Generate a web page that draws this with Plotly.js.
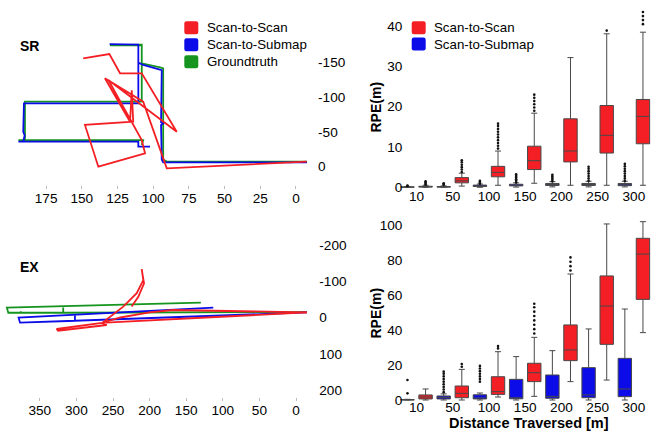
<!DOCTYPE html>
<html><head><meta charset="utf-8">
<script src="https://cdn.plot.ly/plotly-3.0.1.min.js"></script>
<style>html,body{margin:0;padding:0;background:#fff}</style>
</head><body><div id="chart" style="width:653px;height:432px"></div>
<script>
// ---------- trajectory data (SR) ----------
const srGroundX = [-7.7, 90.5, 93, 93, 95.2, 108, 108, 130.3, 108, 108, 189.8, 189.8, 194.4, 107, 108];
const srGroundY = [-7, -7, -10, -141.7, -143, -149, -175, -175, -176, -93.5, -93.5, -38, -38, -38, -31];
const srSubmapX = [-7.7, 93, 94, 94.5, 93, 94.5, 94, 107, 110.4, 110.4, 130.5, 110.4, 110.4, 190.5, 191, 190, 191, 194.4, 110.4, 110.4, 102.2];
const srSubmapY = [-6, -6, -10, -60, -62, -64, -139, -146.5, -150, -176, -176.5, -176, -91, -91, -50, -45, -36, -36, -36, -28.6, -28.6];
const srScanX = [-7.5, 90.5, 107, 133.8, 116.2, 115, 114, 147.8, 138.4, 105.7, 108, 131.4, 83.5, 108, 123.2, 130.7, 149];
const srScanY = [-7, 2.6, -93.5, -127.3, -64.6, -110, -64.6, -60, 0.3, -19, -38, -124.8, -50.2, -134.5, -134.5, -162.3, -156];
const srYTicks = [-150, -100, -50, 0];
const srYTickText = ['-150', '-100', '-50', '0'];
const srXTicks = [175, 150, 125, 100, 75, 50, 25, 0];

// ---------- trajectory data (EX) ----------
const exGroundX = [-15, 318, 318, 318, 376, 376, 376, 393, 395, 130];
const exGroundY = [-15, -13, -31, -13, -13, -17, -13, -13, -27, -41];
const exSubmapX = [-15, 302, 302, 302, 377, 379, 113];
const exSubmapY = [-14, 9, -7, 9, 14.3, 0.5, -27];
const exScanX = [-15, 60, 120, 168, 200, 240, 265, 327, 325, 258.6, 265, 236, 217.6, 208.6, 210.8, 207.6, 215.4, 224.5, null, -15, 260];
const exScanY = [-14, -17, -19, -20.7, -14, 0, 15, 31.7, 36.4, 20.7, 15, -30, -67, -103, -133, -94, -57, -30, null, -14, 14];
const exYTicks = [-200, -100, 0, 100, 200];
const exYTickText = ['-200', '-100', '0', '100', '200'];
const exXTicks = [350, 300, 250, 200, 150, 100, 50, 0];

// ---------- RPE box data ----------
const distances = ['10', '50', '100', '150', '200', '250', '300'];
// SR, Scan-to-Submap
const srSubQ1  = [0.02, 0.05, 0.2, 0.35, 0.45, 0.45, 0.4];
const srSubMed = [0.06, 0.1, 0.35, 0.55, 0.7, 0.7, 0.65];
const srSubQ3  = [0.1, 0.18, 0.55, 0.75, 0.95, 0.95, 0.95];
const srSubLo  = [0, 0, 0, 0.05, 0.1, 0.1, 0.1];
const srSubHi  = [0.2, 0.35, 0.8, 1.1, 1.4, 1.5, 1.5];
const srSubOut = [[0.3, 0.4], [0.6, 0.8, 1.0], [0.9, 1.1, 1.3, 1.6], [1.2, 1.6, 2.0, 2.4, 2.8, 3.2], [1.5, 1.9, 2.3, 2.7, 3.1], [1.6, 2.2, 2.8, 3.4, 4.0, 4.6, 5.1], [1.6, 2.2, 2.8, 3.4, 4.0, 4.6, 5.2, 5.8]];
// SR, Scan-to-Scan
const srScanQ1  = [0.05, 1.1, 2.6, 4.4, 6.3, 8.5, 10.8];
const srScanMed = [0.15, 1.6, 3.7, 6.6, 9.0, 12.9, 17.6];
const srScanQ3  = [0.25, 2.4, 5.2, 10.2, 17.0, 20.3, 21.8];
const srScanLo  = [0, 0.3, 0.5, 1.0, 0.5, 0.5, 0.5];
const srScanHi  = [0.5, 3.5, 9.0, 18.4, 32.2, 38.1, 38.5];
const srScanOut = [[0.6, 0.9, 1.2, 1.5], [3.8, 4.4, 5.0, 5.6, 6.2, 6.7], [9.6, 10.3, 11.0, 11.7, 12.4, 13.1, 13.8, 14.5, 15.2, 15.8], [19.0, 19.8, 20.6, 21.4, 22.2, 23.0], [], [38.9], [40.5, 41.5, 42.5, 43.5]];
// EX, Scan-to-Submap
const exSubQ1  = [0.05, 0.6, 0.6, 0.7, 1.0, 1.3, 1.9];
const exSubMed = [0.1, 1.5, 1.0, 1.1, 2.1, 2.9, 6.3];
const exSubQ3  = [0.2, 2.3, 3.0, 11.8, 14.3, 18.5, 23.8];
const exSubLo  = [0, 0, 0, 0, 0, 0, 0];
const exSubHi  = [0.4, 3.5, 4.0, 24.8, 28.2, 40.6, 52];
const exSubOut = [[3.8, 11.4], [4.5, 6, 7.5, 9, 10.5, 12, 13.5, 15, 16.2], [10.5, 12, 13.5, 15, 16.5, 18, 19.5], [], [], [], []];
// EX, Scan-to-Scan
const exScanQ1  = [0.6, 1.3, 3.2, 10.5, 22.5, 31.8, 57.5];
const exScanMed = [1.7, 3.8, 4.8, 15.6, 28.6, 53.7, 83.4];
const exScanQ3  = [2.9, 8.0, 13.3, 21.0, 42.9, 70.9, 92.4];
const exScanLo  = [0, 0, 1.7, 2.1, 10.5, 11.4, 38.5];
const exScanHi  = [6.3, 17.5, 27.6, 35.8, 72, 100.6, 101.9];
const exScanOut = [[], [19, 20.6], [29.5, 30.8], [38, 40.5, 43, 45.5, 48, 50.5, 53, 55], [74, 76.5, 79, 81.5], [], []];

// ---------- legends ----------
const trajLegendNames = ['Scan-to-Scan', 'Scan-to-Submap', 'Groundtruth'];
const boxLegendNames = ['Scan-to-Scan', 'Scan-to-Submap'];

// ---------- styling ----------
const RED = '#f41f24', BLUE = '#0c0ce8', GREEN = '#15951f';
const trajLegendColors = [RED, BLUE, GREEN];
const boxLegendColors = [RED, BLUE];
const FONT = 'Liberation Sans, Arial, Helvetica, sans-serif';
const W = 653, H = 432;
const px = v => v / W, py = v => 1 - v / H;

const subPos = distances.map((d, i) => 2 * i + 1);
const scanPos = distances.map((d, i) => 2 * i + 2);
const pairTicks = distances.map((d, i) => 2 * i + 1.5);

function boxTrace(pos, q1, med, q3, lo, hi, color, xa, ya) {
  return {type: 'box', x: pos, q1: q1, median: med, q3: q3, lowerfence: lo, upperfence: hi,
    xaxis: xa, yaxis: ya, fillcolor: color, width: 0.74, whiskerwidth: 0.45,
    line: {color: '#484848', width: 1}, boxpoints: false, showlegend: false, hoverinfo: 'skip'};
}
function outTrace(pos, lists, xa, ya) {
  const xs = [], ys = [];
  lists.forEach((l, i) => l.forEach(v => { xs.push(pos[i]); ys.push(v); }));
  return {type: 'scatter', mode: 'markers', x: xs, y: ys, xaxis: xa, yaxis: ya,
    marker: {color: '#111', size: 2.6}, showlegend: false, hoverinfo: 'skip'};
}
function lineTrace(x, y, color, xa, ya) {
  return {type: 'scatter', mode: 'lines', x: x, y: y, xaxis: xa, yaxis: ya,
    line: {color: color, width: 1.8}, showlegend: false, hoverinfo: 'skip', connectgaps: false};
}

const data = [
  lineTrace(srGroundX, srGroundY, GREEN, 'x', 'y'),
  lineTrace(srSubmapX, srSubmapY, BLUE, 'x', 'y'),
  lineTrace(srScanX, srScanY, RED, 'x', 'y'),
  lineTrace(exGroundX, exGroundY, GREEN, 'x3', 'y3'),
  lineTrace(exSubmapX, exSubmapY, BLUE, 'x3', 'y3'),
  lineTrace(exScanX, exScanY, RED, 'x3', 'y3'),
  boxTrace(subPos, srSubQ1, srSubMed, srSubQ3, srSubLo, srSubHi, BLUE, 'x2', 'y2'),
  boxTrace(scanPos, srScanQ1, srScanMed, srScanQ3, srScanLo, srScanHi, RED, 'x2', 'y2'),
  boxTrace(subPos, exSubQ1, exSubMed, exSubQ3, exSubLo, exSubHi, BLUE, 'x4', 'y4'),
  boxTrace(scanPos, exScanQ1, exScanMed, exScanQ3, exScanLo, exScanHi, RED, 'x4', 'y4'),
  outTrace(subPos, srSubOut, 'x2', 'y2'),
  outTrace(scanPos, srScanOut, 'x2', 'y2'),
  outTrace(subPos, exSubOut, 'x4', 'y4'),
  outTrace(scanPos, exScanOut, 'x4', 'y4')
];

// legend blocks (rounded squares + labels), placed in pixels
const shapes = [], annotations = [];
function roundRect(x0, y0, x1, y1, r) {
  const X = v => px(v), Y = v => py(v);
  return `M${X(x0 + r)},${Y(y0)} L${X(x1 - r)},${Y(y0)} Q${X(x1)},${Y(y0)} ${X(x1)},${Y(y0 + r)} ` +
    `L${X(x1)},${Y(y1 - r)} Q${X(x1)},${Y(y1)} ${X(x1 - r)},${Y(y1)} L${X(x0 + r)},${Y(y1)} ` +
    `Q${X(x0)},${Y(y1)} ${X(x0)},${Y(y1 - r)} L${X(x0)},${Y(y0 + r)} Q${X(x0)},${Y(y0)} ${X(x0 + r)},${Y(y0)} Z`;
}
function addLegend(names, colors, left, top, step, textX) {
  names.forEach((n, i) => {
    const cy = top + i * step;
    shapes.push({type: 'path', xref: 'paper', yref: 'paper', path: roundRect(left, cy - 6.5, left + 14, cy + 6.5, 2.2),
      fillcolor: colors[i], line: {width: 0}});
    annotations.push({text: n, x: px(textX), y: py(cy), xref: 'paper', yref: 'paper', xanchor: 'left', yanchor: 'middle',
      showarrow: false, font: {family: FONT, size: 13.3, color: '#000'}});
  });
}
addLegend(trajLegendNames, trajLegendColors, 184.3, 27.8, 17, 204.5);
addLegend(boxLegendNames, boxLegendColors, 411.7, 27.8, 16.2, 431.5);

const textNote = (t, x, y, angle, size) => ({text: '<b>' + t + '</b>', x: px(x), y: py(y), xref: 'paper', yref: 'paper',
  xanchor: (angle || size) ? 'center' : 'left', yanchor: 'middle', textangle: angle || 0, showarrow: false,
  font: {family: FONT, size: size || 14, color: '#000'}});
annotations.push(textNote('SR', 18, 46), textNote('EX', 18, 267),
  textNote('RPE(m)', 375.5, 107, -90), textNote('RPE(m)', 375.5, 313, -90),
  textNote('Distance Traversed [m]', 529, 423, 0, 14.5));

const tickFont = {family: FONT, size: 13.6, color: '#000'};
const trajX = (range, dom, ticks, anchor) => ({domain: dom, range: range, anchor: anchor, tickvals: ticks, ticktext: ticks.map(String),
  ticks: 'outside', ticklen: 3, tickcolor: '#bbb', tickwidth: 1, showgrid: false, zeroline: false, showline: false,
  tickfont: tickFont, ticklabelstandoff: -2, fixedrange: true});
const trajY = (range, dom, ticks, text, anchor) => ({domain: dom, range: range, tickvals: ticks, ticktext: text,
  side: 'right', anchor: anchor, ticks: '', showgrid: false, zeroline: false, showline: false,
  tickfont: tickFont, ticklabelstandoff: 4, fixedrange: true});
const boxX = (dom, anchor, standoff) => ({domain: dom, range: [0.5, 14.5], anchor: anchor, tickvals: pairTicks, ticktext: distances,
  ticks: '', showgrid: false, zeroline: false, showline: false, tickfont: tickFont, fixedrange: true,
  ticklabelstandoff: standoff});
const boxY = (dom, range, anchor) => ({domain: dom, range: range, anchor: anchor, ticks: '', showgrid: false, zeroline: false,
  showline: false, tickfont: tickFont, ticklabelstandoff: -5, fixedrange: true});

const layout = {
  width: W, height: H, margin: {l: 0, r: 0, t: 0, b: 0}, showlegend: false,
  paper_bgcolor: '#fff', plot_bgcolor: '#fff', font: {family: FONT, color: '#000'},
  xaxis: trajX([200, -12], [px(10.4), px(313.1)], srXTicks, 'y'),
  yaxis: trajY([26.7, -197], [py(185), py(30)], srYTicks, srYTickText, 'x'),
  xaxis3: trajX([400, -25], [px(3.2), px(314.3)], exXTicks, 'y3'),
  yaxis3: trajY([219, -241], [py(397), py(230)], exYTicks, exYTickText, 'x3'),
  xaxis2: boxX([px(398.4), px(652)], 'y2', -3),
  yaxis2: boxY([py(189.3), py(4)], [-0.5, 45.5], 'x2'),
  xaxis4: boxX([px(398.4), px(652)], 'y4', -4),
  yaxis4: boxY([py(401.75), py(218)], [-1, 104], 'x4'),
  shapes: shapes,
  annotations: annotations
};

Plotly.newPlot('chart', data, layout, {displayModeBar: false, staticPlot: true});
</script>
</body></html>
